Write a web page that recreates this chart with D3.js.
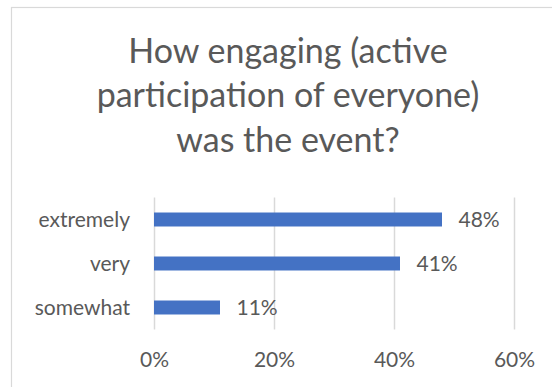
<!DOCTYPE html>
<html>
<head>
<meta charset="utf-8">
<script src="https://cdn.jsdelivr.net/npm/d3@7"></script>
<style>
  html, body { margin: 0; padding: 0; background: #fff; }
  svg { display: block; }
  text { font-family: Lato, "Open Sans", sans-serif; fill: #595959; }
</style>
</head>
<body>
<svg id="chart" width="552" height="387"></svg>
<script>
// Survey answers: how engaging the event was
const categories = ["extremely", "very", "somewhat"];
const shares = [0.48, 0.41, 0.11];
const tickValues = [0, 0.2, 0.4, 0.6];
const titleLines = ["How engaging (active", "participation of everyone)", "was the event?"];

const svg = d3.select("#chart");
const W = 552, H = 387;

// chart area frame (runs past the right and bottom edges)
svg.append("rect")
  .attr("x", 11.5).attr("y", 7.5)
  .attr("width", 570).attr("height", 400)
  .attr("fill", "#fff")
  .attr("stroke", "#d9d9d9")
  .attr("stroke-width", 1.2);

// title
const title = svg.append("text")
  .attr("text-anchor", "middle")
  .style("font-size", "34px");
const titleBaselines = [62.7, 107.3, 151.7];
titleLines.forEach((t, i) => {
  title.append("tspan").attr("x", 288).attr("y", titleBaselines[i]).text(t);
});

const x = d3.scaleLinear().domain([0, 0.6]).range([154, 514]);
const y = d3.scaleBand().domain(categories).range([197.5, 329.5])
  .paddingInner(0.682).paddingOuter(0.341);

// vertical gridlines
svg.append("g")
  .selectAll("line")
  .data(tickValues)
  .join("line")
  .attr("x1", d => Math.round(x(d)) + 0.5)
  .attr("x2", d => Math.round(x(d)) + 0.5)
  .attr("y1", 197.5)
  .attr("y2", 329.5)
  .attr("stroke", "#d9d9d9")
  .attr("stroke-width", 1.5);

// bottom axis: tick labels only
const xAxis = d3.axisBottom(x)
  .tickValues(tickValues)
  .tickFormat(d3.format(".0%"))
  .tickSize(0)
  .tickPadding(0);
const gx = svg.append("g").attr("transform", "translate(0,0)").call(xAxis);
gx.select(".domain").remove();
gx.selectAll("text")
  .attr("y", 366.7).attr("dy", null)
  .style("font-size", "21px")
  .attr("fill", "#595959");

// left axis: category labels only
const yAxis = d3.axisLeft(y).tickSize(0).tickPadding(0);
const gy = svg.append("g").attr("transform", "translate(130,0)").call(yAxis);
gy.select(".domain").remove();
gy.selectAll("text")
  .attr("dy", null)
  .attr("y", 7.2)
  .style("font-size", "21px")
  .attr("fill", "#595959");
gx.attr("font-family", null).attr("font-size", null);
gy.attr("font-family", null).attr("font-size", null);

// bars
svg.append("g")
  .selectAll("rect")
  .data(categories)
  .join("rect")
  .attr("x", x(0))
  .attr("y", d => y(d))
  .attr("width", (d, i) => x(shares[i]) - x(0))
  .attr("height", y.bandwidth())
  .attr("fill", "#4472c4");

// value labels
svg.append("g")
  .selectAll("text")
  .data(categories)
  .join("text")
  .attr("x", (d, i) => x(shares[i]) + 16.5)
  .attr("y", d => y(d) + y.bandwidth() / 2 + 7.3)
  .style("font-size", "21px")
  .text((d, i) => d3.format(".0%")(shares[i]));
</script>
</body>
</html>
